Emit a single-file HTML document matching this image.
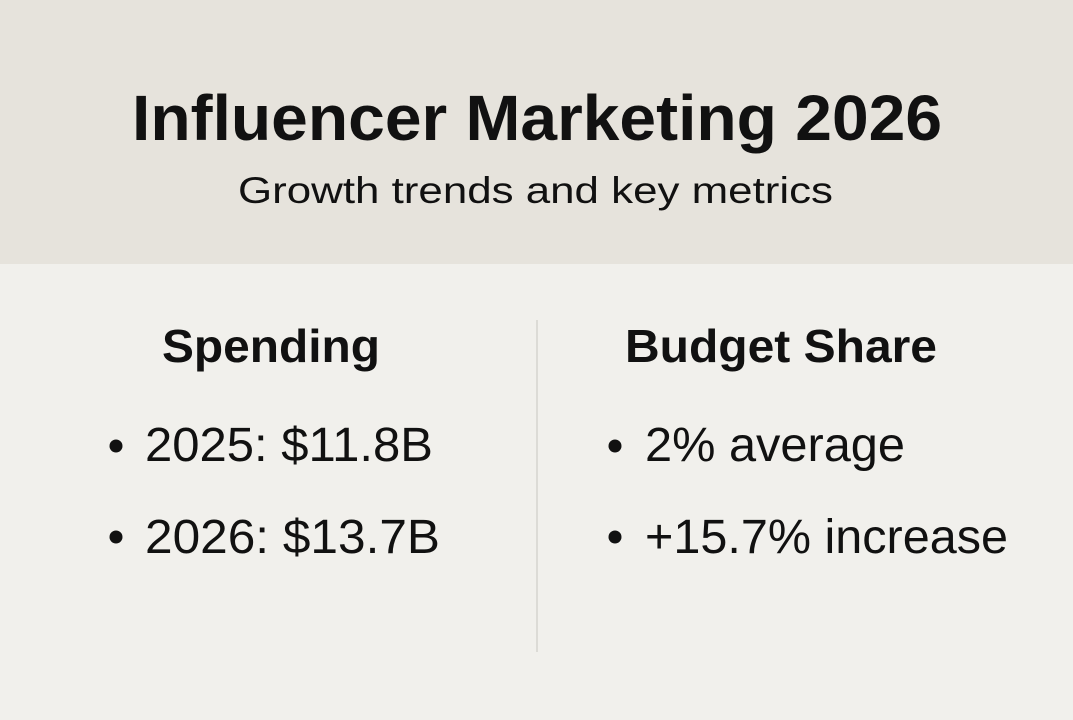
<!DOCTYPE html>
<html><head><meta charset="utf-8"><style>
html,body{margin:0;padding:0;width:1073px;height:720px;overflow:hidden;background:#f1f0ec}
svg{display:block}
text{font-family:"Liberation Sans",Arial,sans-serif;fill:#111}
</style></head><body>
<svg width="1073" height="720" viewBox="0 0 1073 720">
<rect x="0" y="0" width="1073" height="264" fill="#e6e3dc"/>
<rect x="0" y="264" width="1073" height="456" fill="#f1f0ec"/>
<text x="132" y="140" font-size="64" font-weight="bold" textLength="810" lengthAdjust="spacingAndGlyphs">Influencer Marketing 2026</text>
<text x="238" y="203" font-size="37" textLength="595" lengthAdjust="spacingAndGlyphs">Growth trends and key metrics</text>
<line x1="537" y1="320" x2="537" y2="652" stroke="#d6d4ce" stroke-width="1.5"/>
<text x="162" y="362" font-size="46" font-weight="bold" textLength="218" lengthAdjust="spacingAndGlyphs">Spending</text>
<text x="625" y="362" font-size="46" font-weight="bold" textLength="312" lengthAdjust="spacingAndGlyphs">Budget Share</text>
<circle cx="116" cy="446" r="6.5" fill="#111"/>
<circle cx="116" cy="537" r="6.5" fill="#111"/>
<circle cx="615" cy="446" r="6.5" fill="#111"/>
<circle cx="615" cy="537" r="6.5" fill="#111"/>
<text x="145" y="461" font-size="48" textLength="288" lengthAdjust="spacingAndGlyphs">2025: $11.8B</text>
<text x="145" y="553" font-size="48" textLength="295" lengthAdjust="spacingAndGlyphs">2026: $13.7B</text>
<text x="645" y="461" font-size="48" textLength="260" lengthAdjust="spacingAndGlyphs">2% average</text>
<text x="645" y="553" font-size="48" textLength="363" lengthAdjust="spacingAndGlyphs">+15.7% increase</text>
</svg>
</body></html>
